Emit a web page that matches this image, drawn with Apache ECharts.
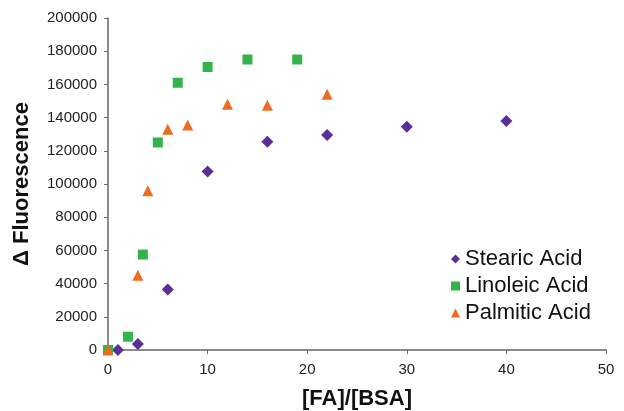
<!DOCTYPE html>
<html>
<head>
<meta charset="utf-8">
<script src="https://cdn.jsdelivr.net/npm/echarts@6/dist/echarts.min.js"></script>
<style>
  html, body { margin: 0; padding: 0; background: #fff; }
  #main { width: 624px; height: 411px; }
</style>
</head>
<body>
<div id="main"></div>
<script>
// data: [FA]/[BSA] ratio vs delta fluorescence
var stearic = [[1, 0], [3, 3600], [6, 36500], [10, 107500], [16, 125500], [22, 129500], [30, 134500], [40, 138000]];
var linoleic = [[0, 0], [2, 8000], [3.5, 57500], [5, 125000], [7, 161000], [10, 170500], [14, 175000], [19, 175000]];
var palmitic = [[0, 0], [3, 45000], [4, 96000], [6, 133000], [8, 135500], [12, 148000], [16, 147500], [22, 154000]];

var xTicks = [0, 10, 20, 30, 40, 50];
var yTicks = [0, 20000, 40000, 60000, 80000, 100000, 120000, 140000, 160000, 180000, 200000];

var font = 'Liberation Sans, Arial, sans-serif';
var axisColor = '#666';

var myChart = echarts.init(document.getElementById('main'));
myChart.setOption({
    animation: false,
    backgroundColor: '#fff',
    textStyle: { fontFamily: font },
    grid: { left: 108, right: 18, top: 18, bottom: 61, outerBoundsMode: 'none', containLabel: false },
    legend: {
        orient: 'vertical',
        left: 446,
        top: 243,
        itemWidth: 9,
        itemHeight: 9,
        itemGap: 5,
        textStyle: { fontSize: 22, lineHeight: 22, color: '#111', fontFamily: font },
        data: [
            { name: 'Stearic Acid', icon: 'diamond' },
            { name: 'Linoleic Acid', icon: 'rect' },
            { name: 'Palmitic Acid', icon: 'triangle' }
        ]
    },
    xAxis: {
        type: 'value',
        min: xTicks[0],
        max: xTicks[xTicks.length - 1],
        interval: 10,
        name: '[FA]/[BSA]',
        nameLocation: 'middle',
        nameGap: 38,
        nameTextStyle: { fontSize: 22, fontWeight: 'bold', color: '#111' },
        axisLine: { lineStyle: { color: axisColor, width: 1.5 } },
        axisTick: { show: true, length: 4, lineStyle: { color: axisColor } },
        axisLabel: { fontSize: 15, color: '#222', margin: 12 },
        splitLine: { show: false }
    },
    yAxis: {
        type: 'value',
        min: yTicks[0],
        max: yTicks[yTicks.length - 1],
        interval: 20000,
        name: 'Δ Fluorescence',
        nameLocation: 'middle',
        nameGap: 75,
        nameRotate: 90,
        nameTextStyle: { fontSize: 22, fontWeight: 'bold', color: '#111' },
        axisLine: { show: true, lineStyle: { color: axisColor, width: 1.5 } },
        axisTick: { show: true, length: 4, lineStyle: { color: axisColor } },
        axisLabel: { fontSize: 15, color: '#222', margin: 11, formatter: function (v) { return String(v); } },
        splitLine: { show: false }
    },
    series: [
        {
            name: 'Stearic Acid',
            type: 'scatter',
            symbol: 'diamond',
            symbolSize: 12,
            itemStyle: { color: '#5a2f9a', opacity: 1 },
            data: stearic
        },
        {
            name: 'Linoleic Acid',
            type: 'scatter',
            symbol: 'rect',
            symbolSize: 10,
            itemStyle: { color: '#33b44a', opacity: 1 },
            data: linoleic
        },
        {
            name: 'Palmitic Acid',
            type: 'scatter',
            symbol: 'triangle',
            symbolSize: 11,
            itemStyle: { color: '#ee6c22', opacity: 1 },
            data: palmitic
        }
    ]
});
</script>
</body>
</html>
